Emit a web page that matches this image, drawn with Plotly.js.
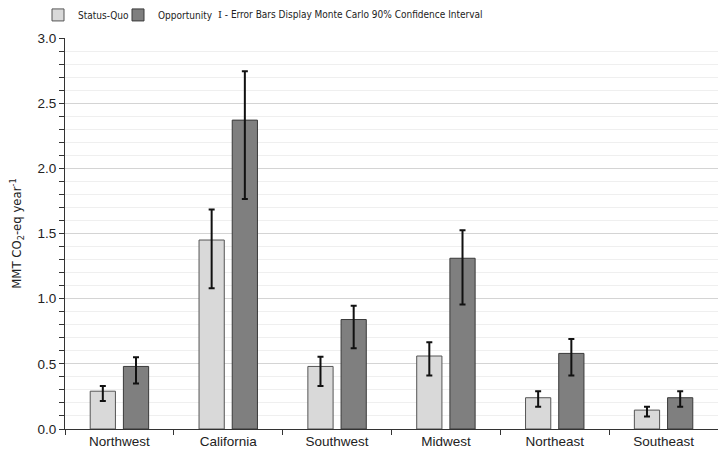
<!DOCTYPE html>
<html>
<head>
<meta charset="utf-8">
<script src="https://cdn.plot.ly/plotly-3.0.1.min.js"></script>
<style>html,body{margin:0;padding:0;background:#fff;}#chart{width:718px;height:459px;}</style>
</head>
<body>
<div id="chart"></div>
<script>
const regions = ["Northwest", "California", "Southwest", "Midwest", "Northeast", "Southeast"];
const statusQuo = [0.29, 1.45, 0.48, 0.56, 0.24, 0.145];
const statusQuoLow = [0.215, 1.08, 0.33, 0.41, 0.17, 0.095];
const statusQuoHigh = [0.33, 1.685, 0.555, 0.665, 0.29, 0.17];
const opportunity = [0.48, 2.37, 0.84, 1.31, 0.58, 0.24];
const opportunityLow = [0.35, 1.765, 0.62, 0.955, 0.41, 0.17];
const opportunityHigh = [0.55, 2.745, 0.945, 1.525, 0.69, 0.29];

const font = "Liberation Sans, Arial, sans-serif";
const narrow = "DejaVu Sans Condensed, Liberation Sans Narrow, Arial Narrow, sans-serif";

function errs(v, lo, hi) {
  return {
    type: 'data', symmetric: false,
    array: hi.map((h, i) => h - v[i]),
    arrayminus: lo.map((l, i) => v[i] - l),
    color: '#111', thickness: 2, width: 3
  };
}

const traces = [
  {
    type: 'bar', name: 'Status-Quo', x: regions, y: statusQuo, legend: 'legend',
    marker: {color: '#d9d9d9', line: {color: '#555', width: 1}},
    error_y: errs(statusQuo, statusQuoLow, statusQuoHigh)
  },
  {
    type: 'bar', name: 'Opportunity', x: regions, y: opportunity, legend: 'legend2',
    marker: {color: '#7f7f7f', line: {color: '#3a3a3a', width: 1}},
    error_y: errs(opportunity, opportunityLow, opportunityHigh)
  }
];

const legendFont = {family: narrow, size: 10, color: '#222'};

const layout = {
  width: 718, height: 459,
  margin: {l: 65, r: 0, t: 38, b: 30},
  paper_bgcolor: '#fff', plot_bgcolor: '#fff',
  font: {family: font, size: 13, color: '#222'},
  barmode: 'group', bargap: 0.39, bargroupgap: 0.24,
  showlegend: true,
  legend: {
    orientation: 'h', x: (38 - 65) / 653, xanchor: 'left', y: 1.059, yanchor: 'middle',
    font: legendFont, itemwidth: 30, bgcolor: 'rgba(0,0,0,0)'
  },
  legend2: {
    orientation: 'h', x: (118 - 65) / 653, xanchor: 'left', y: 1.059, yanchor: 'middle',
    font: legendFont, itemwidth: 30, bgcolor: 'rgba(0,0,0,0)'
  },
  annotations: [{
    xref: 'paper', yref: 'paper', x: (216 - 65) / 653, y: 1.059, xanchor: 'left', yanchor: 'middle',
    showarrow: false,
    text: '<span style="font-family:DejaVu Serif">I</span> - Error Bars Display Monte Carlo 90% Confidence Interval',
    font: {family: narrow, size: 10, color: '#222'}
  }],
  xaxis: {
    type: 'category', range: [-0.5, 5.5],
    showline: true, linecolor: '#333', linewidth: 1,
    ticks: 'outside', tickson: 'boundaries', ticklen: 5, tickcolor: '#333',
    showgrid: false, tickfont: {size: 13.5, color: '#222'}, fixedrange: true
  },
  yaxis: {
    range: [0, 3.0], dtick: 0.5, tick0: 0, tickformat: '.1f',
    showline: true, linecolor: '#333', linewidth: 1,
    ticks: 'outside', ticklen: 5, tickcolor: '#333',
    showgrid: true, gridcolor: '#d4d4d4', gridwidth: 1,
    zeroline: false,
    tickfont: {size: 13.5, color: '#222'},
    minor: {dtick: 0.1, ticks: 'outside', ticklen: 5, tickcolor: '#333', showgrid: true, gridcolor: '#efefef', gridwidth: 1},
    title: {text: 'MMT CO<sub>2</sub>-eq year<sup>-1</sup>', font: {family: narrow, size: 13, color: '#222'}, standoff: 12}
  }
};

Plotly.newPlot('chart', traces, layout, {displayModeBar: false, staticPlot: true});
</script>
</body>
</html>
